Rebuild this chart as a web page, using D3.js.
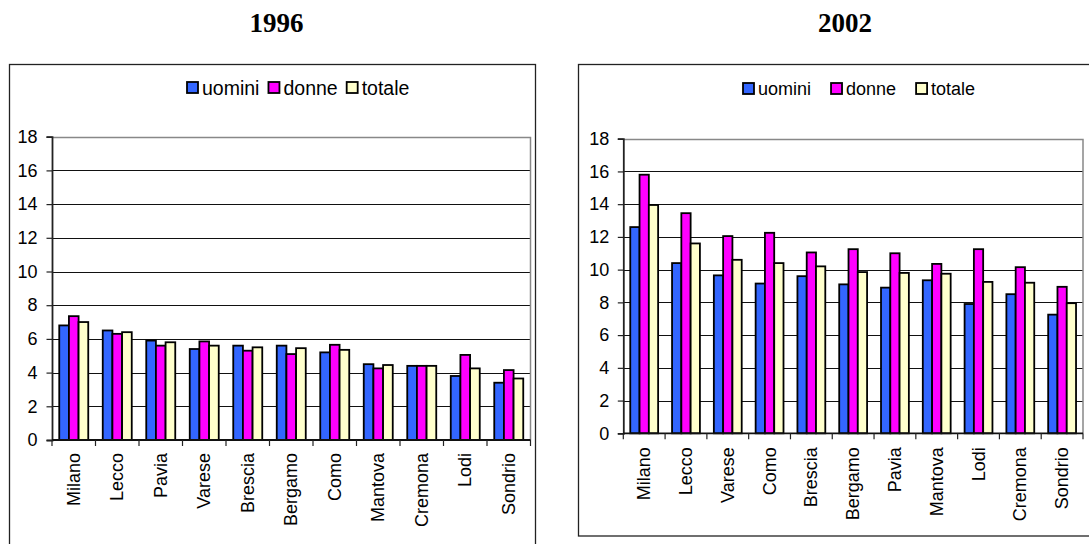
<!DOCTYPE html>
<html>
<head>
<meta charset="utf-8">
<script src="https://cdn.jsdelivr.net/npm/d3@7/dist/d3.min.js"></script>
<style>
  html, body { margin: 0; padding: 0; background: #fff; }
  svg { display: block; }
  text { font-family: "Liberation Sans", Arial, sans-serif; fill: #000; }
</style>
</head>
<body>
<svg id="chart" width="1089" height="544"></svg>
<script>
// Series names and colours
const seriesNames = ["uomini", "donne", "totale"];
const seriesColors = ["#3366FF", "#FF00FF", "#FFFFCC"];

// Tick values of the value axis
const yTicks = [0, 2, 4, 6, 8, 10, 12, 14, 16, 18];

// 1996
const cities1996 = ["Milano", "Lecco", "Pavia", "Varese", "Brescia", "Bergamo", "Como", "Mantova", "Cremona", "Lodi", "Sondrio"];
const uomini1996 = [6.8, 6.5, 5.9, 5.4, 5.6, 5.6, 5.2, 4.5, 4.4, 3.8, 3.4];
const donne1996  = [7.35, 6.3, 5.6, 5.85, 5.3, 5.1, 5.65, 4.25, 4.4, 5.05, 4.15];
const totale1996 = [7.0, 6.4, 5.8, 5.6, 5.5, 5.45, 5.35, 4.45, 4.4, 4.25, 3.65];

// 2002
const cities2002 = ["Milano", "Lecco", "Varese", "Como", "Brescia", "Bergamo", "Pavia", "Mantova", "Lodi", "Cremona", "Sondrio"];
const uomini2002 = [12.6, 10.4, 9.65, 9.15, 9.6, 9.1, 8.9, 9.35, 7.9, 8.5, 7.25];
const donne2002  = [15.8, 13.45, 12.05, 12.25, 11.05, 11.25, 11.0, 10.35, 11.25, 10.15, 8.95];
const totale2002 = [13.95, 11.6, 10.6, 10.4, 10.2, 9.85, 9.8, 9.75, 9.25, 9.2, 7.95];

const svg = d3.select("#chart");

function drawChart(cfg) {
  const g = svg.append("g");

  // Year heading
  svg.append("text")
    .attr("x", cfg.titleX).attr("y", 32)
    .attr("text-anchor", "middle")
    .style("font-family", '"Liberation Serif", "Times New Roman", serif')
    .style("font-weight", "bold")
    .style("font-size", "27px")
    .text(cfg.title);

  // Chart frame
  g.append("rect")
    .attr("x", cfg.box.x).attr("y", cfg.box.y)
    .attr("width", cfg.box.w).attr("height", cfg.box.h)
    .attr("fill", "#fff").attr("stroke", "#222").attr("stroke-width", 1.3);

  const x = d3.scaleBand()
    .domain(cfg.cities)
    .range([cfg.plot.x0, cfg.plot.x1])
    .paddingInner(1 / 3)
    .paddingOuter(1 / 6);
  const xs = d3.scaleBand().domain(seriesNames).range([0, x.bandwidth()]);
  const y = d3.scaleLinear().domain([0, 18]).range([cfg.plot.y1, cfg.plot.y0]);

  // Gridlines
  g.append("g").selectAll("line")
    .data(yTicks.filter(t => t > 0 && t < 18))
    .join("line")
    .attr("x1", cfg.plot.x0).attr("x2", cfg.plot.x1)
    .attr("y1", d => Math.round(y(d)) + 0.5).attr("y2", d => Math.round(y(d)) + 0.5)
    .attr("stroke", "#111").attr("stroke-width", 1);

  // Plot area border (top and right)
  g.append("path")
    .attr("d", `M${cfg.plot.x0},${Math.round(y(18)) + 0.5}H${cfg.plot.x1}V${cfg.plot.y1}`)
    .attr("fill", "none").attr("stroke", "#888").attr("stroke-width", 1.5);

  // Bars
  const values = [cfg.uomini, cfg.donne, cfg.totale];
  const rows = [];
  cfg.cities.forEach((c, i) => {
    seriesNames.forEach((s, k) => rows.push({ city: c, series: s, k, value: values[k][i] }));
  });
  g.append("g").selectAll("rect")
    .data(rows)
    .join("rect")
    .attr("x", d => x(d.city) + xs(d.series))
    .attr("y", d => y(d.value))
    .attr("width", xs.bandwidth())
    .attr("height", d => y(0) - y(d.value))
    .attr("fill", d => seriesColors[d.k])
    .attr("stroke", "#000").attr("stroke-width", 1.8);

  // Value axis
  const yAxis = g.append("g")
    .attr("transform", `translate(${cfg.plot.x0},0)`)
    .call(d3.axisLeft(y).tickValues(yTicks).tickSize(5.5).tickPadding(cfg.yPad).tickFormat(d3.format("d")));
  yAxis.select(".domain").attr("stroke", "#222").attr("stroke-width", 1.8);
  yAxis.selectAll(".tick line").attr("stroke", "#222").attr("stroke-width", 1.2);
  yAxis.selectAll("text")
    .style("font-family", '"Liberation Sans", Arial, sans-serif')
    .style("font-size", "18px").attr("fill", "#000");

  // Category axis with ticks at category boundaries
  const step = x.step();
  const bounds = d3.range(cfg.cities.length + 1).map(i => x(cfg.cities[0]) - step / 6 + i * step);
  const xa = g.append("g");
  xa.append("line")
    .attr("x1", cfg.plot.x0).attr("x2", cfg.plot.x1)
    .attr("y1", y(0)).attr("y2", y(0))
    .attr("stroke", "#111").attr("stroke-width", 1.8);
  xa.selectAll(".b").data(bounds).join("line")
    .attr("x1", d => d).attr("x2", d => d)
    .attr("y1", y(0)).attr("y2", y(0) + 6)
    .attr("stroke", "#222").attr("stroke-width", 1.2);
  xa.selectAll("text").data(cfg.cities).join("text")
    .attr("transform", d => `translate(${x(d) + x.bandwidth() / 2},${y(0) + cfg.xPad}) rotate(-90)`)
    .attr("text-anchor", "end")
    .attr("dominant-baseline", "central")
    .style("font-size", "18px")
    .text(d => d);

  // Legend
  const lg = g.append("g");
  let cx = cfg.legend.x;
  seriesNames.forEach((s, k) => {
    lg.append("rect")
      .attr("x", cx).attr("y", cfg.legend.y - 5.5)
      .attr("width", 11).attr("height", 11)
      .attr("fill", seriesColors[k]).attr("stroke", "#000").attr("stroke-width", 1.8);
    const t = lg.append("text")
      .attr("x", cx + 15).attr("y", cfg.legend.y)
      .attr("dominant-baseline", "central")
      .style("font-size", cfg.legend.fs + "px")
      .text(s);
    cx += 15 + t.node().getComputedTextLength() + cfg.legend.gap;
  });
}

drawChart({
  title: "1996", titleX: 276.5,
  box: { x: 9.5, y: 64.5, w: 526, h: 490 },
  plot: { x0: 52, x1: 530.5, y0: 136.7, y1: 440 },
  cities: cities1996, uomini: uomini1996, donne: donne1996, totale: totale1996,
  yPad: 9, xPad: 13,
  legend: { x: 187, y: 87.5, fs: 19.5, gap: 9 }
});

drawChart({
  title: "2002", titleX: 845,
  box: { x: 578.5, y: 64.5, w: 520, h: 471.5 },
  plot: { x0: 623.3, x1: 1083, y0: 138.7, y1: 433.3 },
  cities: cities2002, uomini: uomini2002, donne: donne2002, totale: totale2002,
  yPad: 8.5, xPad: 14,
  legend: { x: 743, y: 88.5, fs: 18, gap: 20 }
});
</script>
</body>
</html>
